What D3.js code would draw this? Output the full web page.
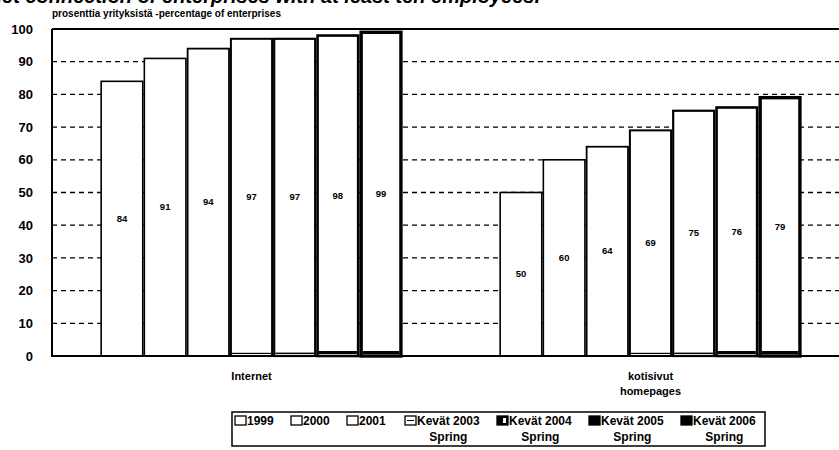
<!DOCTYPE html>
<html><head><meta charset="utf-8">
<script src="https://cdn.jsdelivr.net/npm/d3@7"></script>
<style>
body{margin:0;background:#fff;}
svg{display:block;font-family:"Liberation Sans",Arial,sans-serif;}
</style></head>
<body>
<svg id="c" width="839" height="450"></svg>
<script>
const categories = ["Internet", "kotisivut"];
const categoryLines = [["Internet"], ["kotisivut", "homepages"]];
const series = ["1999", "2000", "2001", "Kevät 2003", "Kevät 2004", "Kevät 2005", "Kevät 2006"];
const seriesSub = ["", "", "", "Spring", "Spring", "Spring", "Spring"];
const internetValues = [84, 91, 94, 97, 97, 98, 99];
const homepageValues = [50, 60, 64, 69, 75, 76, 79];
const yTicks = [0, 10, 20, 30, 40, 50, 60, 70, 80, 90, 100];
const titleText = "Internet connection of enterprises with at least ten employees.";
const subtitleText = "prosenttia yrityksistä -percentage of enterprises";

const valuesByCat = [internetValues, homepageValues];
const strokeW = [1.6, 1.6, 1.8, 2, 2.2, 2.6, 3.4];
const stripH = [0, 0, 0, 1.2, 1.4, 3, 3];

const svg = d3.select("#c");
const L = 52, T = 29, B = 356, R = 850;

const y = d3.scaleLinear().domain([0, 100]).range([B, T]);
const x0 = d3.scaleBand().domain(categories).range([L, R]).padding(0);
const x1 = d3.scaleBand().domain(series).range([0, x0.bandwidth()]).paddingInner(0).paddingOuter(1.12);

// title (cut off at top, as in the source)
svg.append("text").attr("x", 540).attr("y", 3).attr("text-anchor", "end")
  .attr("font-size", 20).attr("font-weight", "bold").attr("font-style", "italic")
  .text(titleText);
svg.append("text").attr("x", 52).attr("y", 17)
  .attr("font-size", 10).attr("font-weight", "bold").text(subtitleText);

// grid
svg.append("g").selectAll("line").data(yTicks.filter(t => t > 0 && t < 100)).join("line")
  .attr("x1", L).attr("x2", 839).attr("y1", d => y(d)).attr("y2", d => y(d))
  .attr("stroke", "#000").attr("stroke-width", 1.3).attr("stroke-dasharray", "5,4");

// y axis
const yAxis = svg.append("g").attr("transform", `translate(${L},0)`)
  .call(d3.axisLeft(y).tickValues(yTicks).tickSize(0).tickPadding(19));
yAxis.select(".domain").remove();
yAxis.selectAll("text").attr("font-size", 13).attr("font-weight", "bold")
  .attr("font-family", "'Liberation Sans',Arial,sans-serif").attr("fill", "#000");

// bars
const groups = svg.append("g").selectAll("g").data(categories).join("g")
  .attr("transform", d => `translate(${x0(d)},0)`);
groups.each(function(cat, ci) {
  const g = d3.select(this);
  const vals = valuesByCat[ci];
  series.forEach((s, si) => {
    const v = vals[si];
    const sw = strokeW[si];
    g.append("rect").attr("x", x1(s) + sw / 2).attr("y", y(v))
      .attr("width", x1.bandwidth() - sw).attr("height", y(0) - y(v))
      .attr("fill", "#fff").attr("stroke", "#000").attr("stroke-width", sw);
    if (stripH[si] > 0) {
      g.append("rect").attr("x", x1(s) + sw).attr("y", y(0) - 2 - stripH[si])
        .attr("width", x1.bandwidth() - 2 * sw).attr("height", stripH[si]).attr("fill", "#000");
    }
    g.append("text").attr("x", x1(s) + x1.bandwidth() / 2).attr("y", (y(v) + y(0)) / 2 + 3)
      .attr("text-anchor", "middle").attr("font-size", 9.5).attr("font-weight", "bold").text(v);
  });
  const lines = categoryLines[ci];
  lines.forEach((ln, li) => {
    g.append("text").attr("x", x0.bandwidth() / 2).attr("y", 380 + li * 15)
      .attr("text-anchor", "middle").attr("font-size", 11).attr("font-weight", "bold").text(ln);
  });
});

// frame
svg.append("line").attr("x1", L).attr("x2", 839).attr("y1", T).attr("y2", T).attr("stroke", "#000").attr("stroke-width", 2);
svg.append("line").attr("x1", L).attr("x2", L).attr("y1", T).attr("y2", B).attr("stroke", "#000").attr("stroke-width", 2);
svg.append("line").attr("x1", L - 1).attr("x2", 839).attr("y1", B).attr("y2", B).attr("stroke", "#000").attr("stroke-width", 2);

// legend
const lg = svg.append("g");
lg.append("rect").attr("x", 232).attr("y", 412).attr("width", 533).attr("height", 34)
  .attr("fill", "#fff").attr("stroke", "#000").attr("stroke-width", 1.5);
const legendX = [235, 291, 347, 405, 497, 589, 681];
series.forEach((s, i) => {
  const lx = legendX[i];
  const item = lg.append("g").attr("transform", `translate(${lx},0)`);
  const dark = i >= 4;
  item.append("rect").attr("x", 0).attr("y", 416).attr("width", 11).attr("height", 9)
    .attr("fill", dark ? "#000" : "#fff").attr("stroke", "#000").attr("stroke-width", 1.3);
  if (i === 3) {
    item.append("line").attr("x1", 2).attr("x2", 9).attr("y1", 420.5).attr("y2", 420.5).attr("stroke", "#000");
  }
  if (i === 4) {
    item.append("rect").attr("x", 6).attr("y", 418).attr("width", 3).attr("height", 5).attr("fill", "#fff");
  }
  const t = item.append("text").attr("x", 12).attr("y", 425).attr("font-size", 12).attr("font-weight", "bold").text(s);
  if (seriesSub[i]) {
    const w = t.node().getComputedTextLength();
    item.append("text").attr("x", 12 + w / 2).attr("y", 441).attr("text-anchor", "middle")
      .attr("font-size", 12).attr("font-weight", "bold").text(seriesSub[i]);
  }
});
</script>
</body></html>
